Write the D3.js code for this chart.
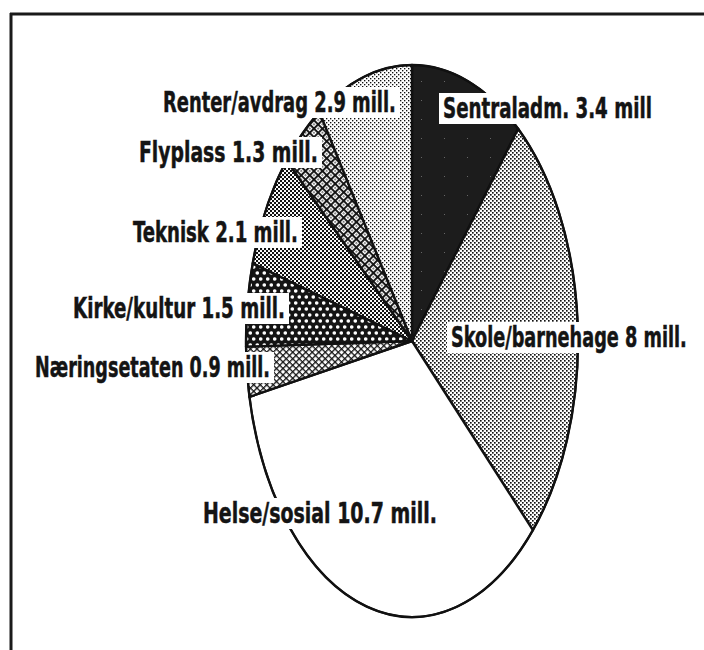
<!DOCTYPE html>
<html>
<head>
<meta charset="utf-8">
<script src="https://cdn.jsdelivr.net/npm/d3@7"></script>
<style>
  html, body { margin: 0; padding: 0; background: #fff; overflow: hidden; width: 704px; height: 650px; }
  svg { display: block; position: absolute; left: 0; top: 0; }
  .lbl { font-family: "Liberation Sans Narrow", "DejaVu Sans Condensed", "Arial Narrow", sans-serif; font-weight: bold; font-stretch: condensed; fill: #141414; stroke: #141414; stroke-width: 0.5; }
</style>
</head>
<body>
<svg id="chart" width="704" height="650"></svg>
<script>
// ---- data ----
const categories = ["Sentraladm.", "Skole/barnehage", "Helse/sosial", "Næringsetaten", "Kirke/kultur", "Teknisk", "Flyplass", "Renter/avdrag"];
const values = [3.4, 8, 10.7, 0.9, 1.5, 2.1, 1.3, 2.9];
const valueLabels = ["3.4 mill", "8 mill.", "10.7 mill.", "0.9 mill.", "1.5 mill.", "2.1 mill.", "1.3 mill.", "2.9 mill."];

// ---- layout (positions kept separate from data) ----
const labelX = [443, 451, 203, 35, 73, 133, 139, 163];
const labelBaseline = [118, 347, 523, 377, 318, 242, 162, 112];
const labelWidth = [209, 236, 234, 235, 212, 165, 179, 233];
const fills = ["url(#pSentral)", "url(#pSkole)", "#ffffff", "url(#pNaering)", "url(#pKirke)", "url(#pTeknisk)", "url(#pFly)", "url(#pRenter)"];

const W = 704, H = 650;
const cx = 412, cy = 341, rx = 166, ry = 276;

const svg = d3.select("#chart");
svg.append("rect").attr("width", W).attr("height", H).attr("fill", "#fff");
const defs = svg.append("defs");

function checker(id, size, dot) {
  const p = defs.append("pattern").attr("id", id).attr("patternUnits", "userSpaceOnUse")
    .attr("width", size).attr("height", size);
  p.append("rect").attr("width", size).attr("height", size).attr("fill", "#fff");
  p.append("rect").attr("x", 0).attr("y", 0).attr("width", dot).attr("height", dot).attr("fill", "#111");
  p.append("rect").attr("x", size / 2).attr("y", size / 2).attr("width", dot).attr("height", dot).attr("fill", "#111");
}
checker("pRenter", 4, 1.35);
checker("pSkole", 4, 1.65);
checker("pTeknisk", 4, 2.05);

// solid dark with a few specks
{
  const p = defs.append("pattern").attr("id", "pSentral").attr("patternUnits", "userSpaceOnUse")
    .attr("width", 23).attr("height", 19);
  p.append("rect").attr("width", 23).attr("height", 19).attr("fill", "#1c1c1c");
  p.append("rect").attr("x", 7).attr("y", 5).attr("width", 1).attr("height", 1).attr("fill", "#666");
}
// crosshatch (Næringsetaten)
{
  const p = defs.append("pattern").attr("id", "pNaering").attr("patternUnits", "userSpaceOnUse")
    .attr("width", 4.6).attr("height", 4.6).attr("patternTransform", "rotate(45)");
  p.append("rect").attr("width", 4.6).attr("height", 4.6).attr("fill", "#fff");
  p.append("rect").attr("x", 0).attr("y", 0).attr("width", 4.6).attr("height", 1.3).attr("fill", "#111");
  p.append("rect").attr("x", 0).attr("y", 0).attr("width", 1.3).attr("height", 4.6).attr("fill", "#111");
}
// dark with white dots (Kirke/kultur)
{
  const p = defs.append("pattern").attr("id", "pKirke").attr("patternUnits", "userSpaceOnUse")
    .attr("width", 7).attr("height", 12);
  p.append("rect").attr("width", 7).attr("height", 12).attr("fill", "#141414");
  p.append("circle").attr("cx", 1.75).attr("cy", 3).attr("r", 1.8).attr("fill", "#fff");
  p.append("circle").attr("cx", 5.25).attr("cy", 9).attr("r", 1.8).attr("fill", "#fff");
}
// heavy crosshatch with plus marks (Flyplass)
{
  const p = defs.append("pattern").attr("id", "pFly").attr("patternUnits", "userSpaceOnUse")
    .attr("width", 6).attr("height", 6).attr("patternTransform", "rotate(45)");
  p.append("rect").attr("width", 6).attr("height", 6).attr("fill", "#fff");
  p.append("rect").attr("x", 0).attr("y", 0).attr("width", 6).attr("height", 1.9).attr("fill", "#111");
  p.append("rect").attr("x", 0).attr("y", 0).attr("width", 1.9).attr("height", 6).attr("fill", "#111");
  p.append("rect").attr("x", 3.2).attr("y", 3.2).attr("width", 1.4).attr("height", 1.4).attr("fill", "#111");
}

// ---- frame (top and left only) ----
svg.append("line").attr("x1", 10).attr("y1", 14).attr("x2", W + 2).attr("y2", 14)
  .attr("stroke", "#1a1a1a").attr("stroke-width", 3);
svg.append("line").attr("x1", 11).attr("y1", 13).attr("x2", 11).attr("y2", H + 2)
  .attr("stroke", "#1a1a1a").attr("stroke-width", 3);

// ---- pie (circle pie layout mapped onto an ellipse via linear scales) ----
const xS = d3.scaleLinear().domain([-1, 1]).range([cx - rx, cx + rx]);
const yS = d3.scaleLinear().domain([-1, 1]).range([cy - ry, cy + ry]);
const pie = d3.pie().sort(null).value(d => d).startAngle(0).endAngle(2 * Math.PI);
const arcs = pie(values);

function slicePath(a) {
  const x0 = xS(Math.sin(a.startAngle)), y0 = yS(-Math.cos(a.startAngle));
  const x1 = xS(Math.sin(a.endAngle)), y1 = yS(-Math.cos(a.endAngle));
  const large = (a.endAngle - a.startAngle) > Math.PI ? 1 : 0;
  return `M${xS(0)},${yS(0)}L${x0},${y0}A${rx},${ry} 0 ${large} 1 ${x1},${y1}Z`;
}

svg.append("g").selectAll("path").data(arcs).join("path")
  .attr("d", slicePath)
  .attr("fill", (d, i) => fills[i])
  .attr("stroke", "#111")
  .attr("stroke-width", 2.4)
  .attr("stroke-linejoin", "round");

svg.append("ellipse").attr("cx", xS(0)).attr("cy", yS(0)).attr("rx", rx).attr("ry", ry)
  .attr("fill", "none").attr("stroke", "#111").attr("stroke-width", 2);

// ---- labels with white boxes ----
const lg = svg.append("g");
categories.forEach((c, i) => {
  const x = labelX[i], b = labelBaseline[i], w = labelWidth[i];
  lg.append("rect").attr("x", x - 4).attr("y", b - 25).attr("width", w + 8).attr("height", 31)
    .attr("fill", "#fff");
  const t = lg.append("text").attr("class", "lbl")
    .attr("x", 0).attr("y", 0)
    .attr("font-size", 29)
    .text(c + " " + valueLabels[i]);
  const natural = t.node().getComputedTextLength();
  const sx = w / natural;
  t.attr("transform", `translate(${x},${b}) scale(${sx},1)`);
});
</script>
</body>
</html>
